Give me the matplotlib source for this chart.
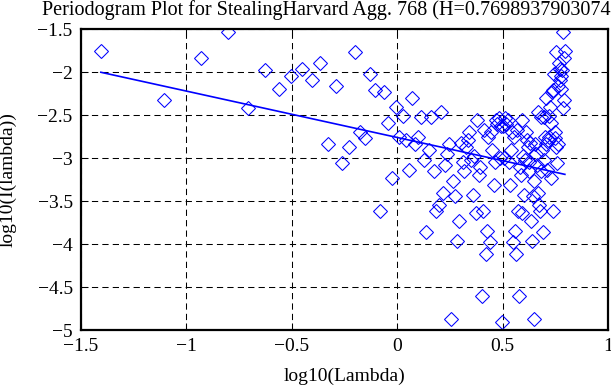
import numpy as np
import matplotlib
matplotlib.use("Agg")
import matplotlib.pyplot as plt

# Periodogram: series length and Fourier frequency indices
N = 160
freq_index = np.arange(1, N)          # k = 1 .. 159, lambda_k = 2*pi*k/N

# log10 periodogram values, k = 1 .. 80
log_I_low = [
    -1.75, -2.32, -1.83, -1.535, -2.42, -1.97, -2.19, -2.04, -1.965, -2.085,
    -1.895, -2.835, -2.165, -3.06, -2.865, -1.76, -2.69, -2.76, -2.02, -2.205,
    -3.61, -2.225, -2.595, -3.23, -2.41, -2.75, -2.51, -2.79, -3.135, -2.30,
    -2.835, -2.75, -2.515, -3.02, -3.865, -2.905, -2.515, -3.155, -3.62, -3.54,
    -2.46, -3.41, -3.085, -2.95, -2.835, -4.87, -3.27, -3.44, -3.96, -3.73,
    -2.825, -3.05, -3.155, -2.865, -2.79, -2.7, -3.02, -3.43, -2.98, -3.64,
    -2.55, -3.2, -3.1, -4.60, -3.61, -2.67, -4.12, -3.85, -2.75, -3.97,
    -2.69, -2.90, -3.31, -3.05, -2.55, -2.6, -2.53, -3.0, -2.62, -4.91,
]
# k = 81 .. 159 (the periodogram is symmetric about pi)
log_I_high = [
    -2.62, -3.0, -2.53, -2.6, -2.55, -3.05, -3.31, -2.90, -2.69, -3.97,
    -2.75, -3.85, -4.12, -2.67, -3.61, -4.60, -3.1, -3.2, -2.55, -3.64,
    -2.98, -3.43, -3.02, -2.7, -2.79, -2.865, -3.155, -3.05, -2.825, -3.73,
    -3.96, -3.44, -3.27, -4.87, -2.835, -2.95, -3.085, -3.41, -2.46, -3.54,
    -3.62, -3.155, -2.515, -2.905, -3.865, -3.02, -2.515, -2.75, -2.835, -2.30,
    -3.135, -2.79, -2.51, -2.75, -2.41, -3.23, -2.595, -2.225, -3.61, -2.205,
    -2.02, -2.76, -2.69, -1.76, -2.865, -3.06, -2.165, -2.835, -1.895, -2.085,
    -1.965, -2.04, -2.19, -1.97, -2.42, -1.535, -1.83, -2.32, -1.75,
]

H = 0.7698937903074745
fit_slope = 1 - 2 * H
fit_intercept = -2.759

title = "Periodogram Plot for StealingHarvard Agg. 768 (H=0.7698937903074745)"
x_ticks = [-1.5, -1, -0.5, 0, 0.5, 1]
x_tick_labels = ["\u22121.5", "\u22121", "\u22120.5", "0", "0.5", "1"]
y_ticks = [-5, -4.5, -4, -3.5, -3, -2.5, -2, -1.5]
y_tick_labels = ["\u22125", "\u22124.5", "\u22124", "\u22123.5", "\u22123", "\u22122.5", "\u22122", "\u22121.5"]

plt.rcParams['font.family'] = ['Liberation Serif', 'DejaVu Serif']

log_lambda = np.log10(2 * np.pi * freq_index / N)
log_I = np.array(log_I_low + log_I_high)

fig = plt.figure(figsize=(6.11, 3.85), dpi=100)
ax = fig.add_axes([81 / 611, 1 - 330 / 385, (608 - 81) / 611, (330 - 29.3) / 385])

ax.plot(log_lambda, log_I, linestyle='none', marker='D', markersize=7.2,
        markerfacecolor='none', markeredgecolor='#0000ff', markeredgewidth=0.75)
xf = np.array([log_lambda.min(), log_lambda.max()])
ax.plot(xf, fit_intercept + fit_slope * xf, color='#0000ff', linewidth=1.2)

ax.set_xlim(-1.5, 1)
ax.set_ylim(-5, -1.5)
ax.set_xticks(x_ticks)
ax.set_xticklabels(x_tick_labels)
ax.set_yticks(y_ticks)
ax.set_yticklabels(y_tick_labels)
ax.grid(True, color='black', linestyle=(0, (6, 4)), linewidth=0.75)
ax.tick_params(direction='in', top=True, right=True, length=5, width=0.75,
               labelsize=14, pad=6, colors='black')
for s in ax.spines.values():
    s.set_linewidth(1.6)
    s.set_color('black')

ax.set_title(title, fontsize=14.5, pad=10)
ax.set_xlabel("log10(Lambda)", fontsize=14)
ax.set_ylabel("log10(I(lambda))", fontsize=14)
ax.xaxis.set_label_coords(0.5, -0.125)
ax.yaxis.set_label_coords(-0.122, 0.5)

fig.savefig("out.png", dpi=100)
